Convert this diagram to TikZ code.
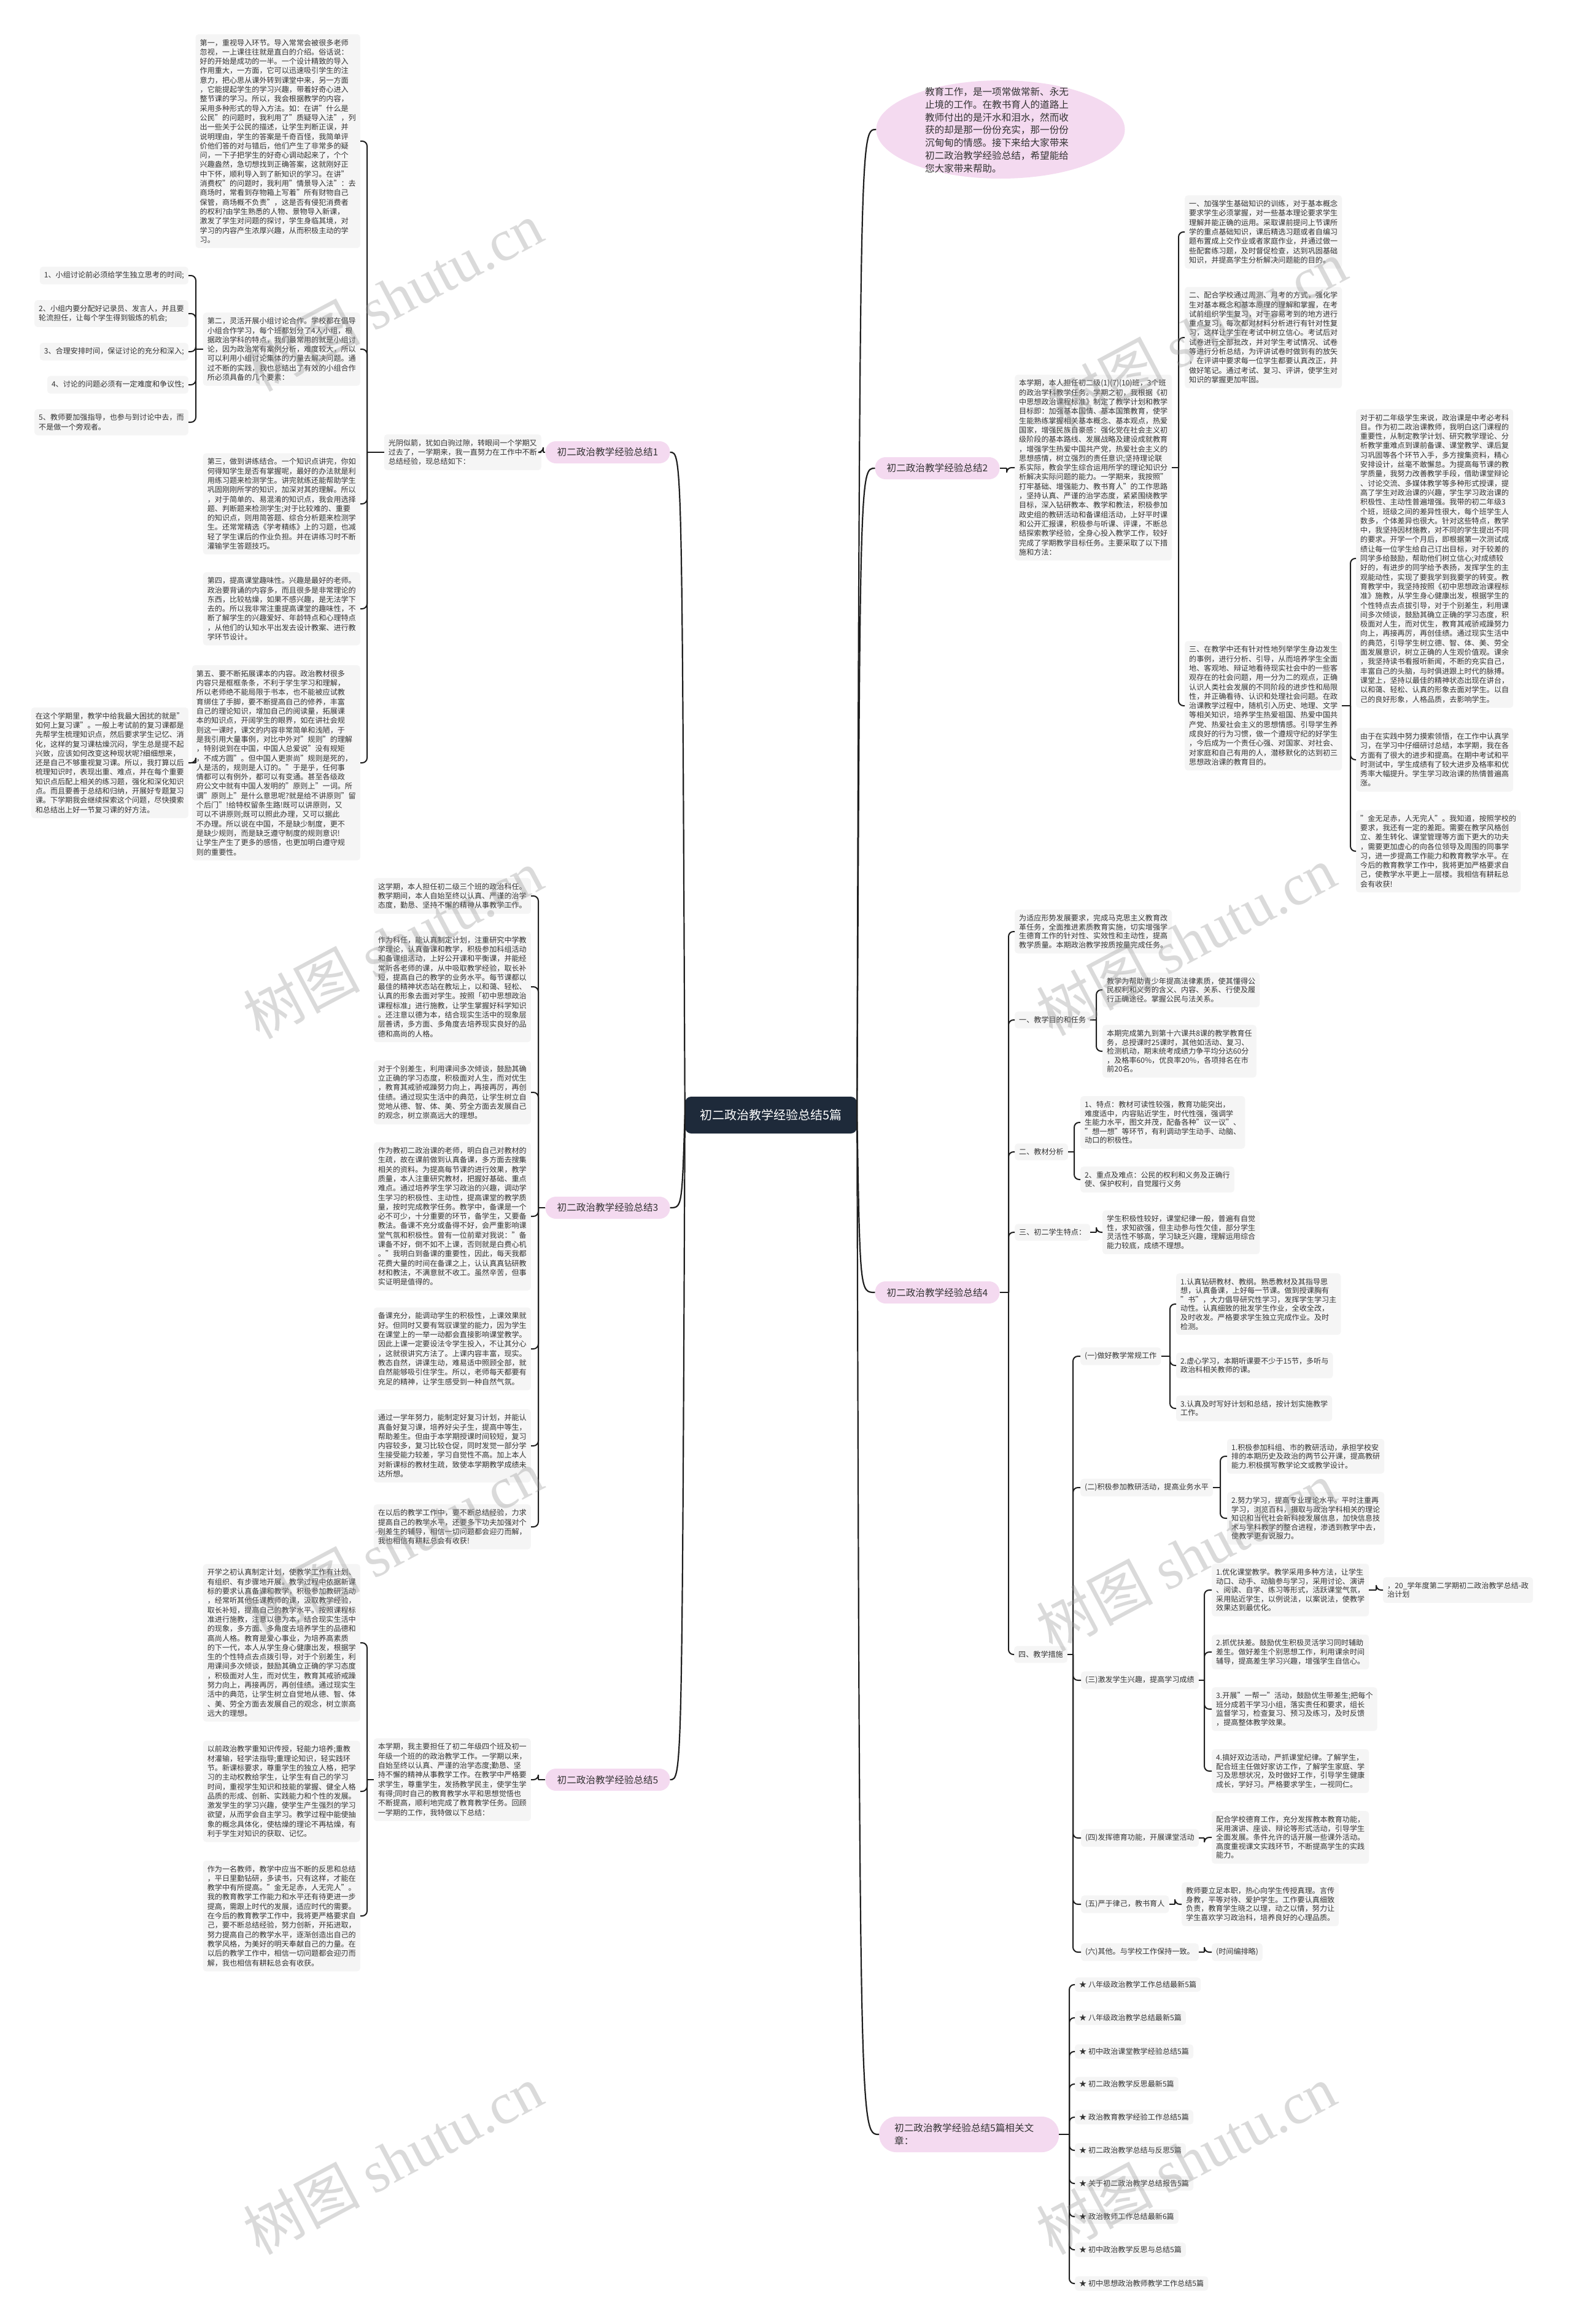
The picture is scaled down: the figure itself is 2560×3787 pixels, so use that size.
\documentclass[tikz,border=0pt]{standalone}
\usepackage{fontspec}
\setmainfont{Noto Sans CJK SC}
\newfontfamily\wmserif{Liberation Serif}
\usetikzlibrary{shapes.geometric}
\definecolor{boxc}{RGB}{245,245,245}
\definecolor{txtc}{RGB}{51,51,51}
\definecolor{pinkc}{RGB}{244,218,240}
\definecolor{rootc}{RGB}{30,42,58}
\definecolor{linec}{RGB}{30,30,30}
\definecolor{wmc}{RGB}{150,150,150}
\newcommand\rconn[3]{\draw[link] (#1.east) -- (#1.east -| #3); \draw[link,rounded corners=8pt] (#1.east -| #3) |- (#2.west);}
\newcommand\lconn[3]{\draw[link] (#1.west) -- (#1.west -| #3); \draw[link,rounded corners=8pt] (#1.west -| #3) |- (#2.east);}
\tikzset{
 box/.style={fill=boxc, rounded corners=5pt, text=txtc, font=\fontsize{12.1}{15.3}\selectfont, align=left, inner xsep=7pt, inner ysep=8pt},
 boxs/.style={box, font=\fontsize{12.1}{14.6}\selectfont},
 lbl/.style={fill=pinkc, rounded corners=17pt, text=txtc, font=\fontsize{15.6}{21}\selectfont, inner xsep=19pt, inner ysep=0pt, minimum height=36pt},
 rootnode/.style={fill=rootc, text=white, rounded corners=10pt, font=\fontsize{20}{24}\selectfont, minimum width=280pt, minimum height=60pt, inner sep=0pt},
 link/.style={draw=linec, line width=2pt},
 mainlink/.style={draw=linec, line width=2.2pt},
 wm/.style={text=wmc, opacity=0.35, font=\fontsize{95}{100}\selectfont, rotate=28},
}
\begin{document}
\begin{tikzpicture}[x=1pt,y=-1pt]
\fill[white] (0,0) rectangle (2560,3787);
\useasboundingbox (0,0) rectangle (2560,3787);

% ---------- root ----------
\node[rootnode] (root) at (1256,1817) {初二政治教学经验总结5篇};

% ---------- intro ----------
\node[ellipse, fill=pinkc, minimum width=405pt, minimum height=160pt, inner sep=0pt] (intro) at (1630,211) {};
\node[text=txtc, font=\fontsize{15.6}{20.8}\selectfont, align=left] (introtxt) at (1624,212) {教育工作，是一项常做常新、永无\\止境的工作。在教书育人的道路上\\教师付出的是汗水和泪水，然而收\\获的却是那一份份充实，那一份份\\沉甸甸的情感。接下来给大家带来\\初二政治教学经验总结，希望能给\\您大家带来帮助。};

% ---------- labels ----------
\node[lbl] (L1) at (990,737) {初二政治教学经验总结1};
\node[lbl] (L3) at (990,1968) {初二政治教学经验总结3};
\node[lbl] (L5) at (990,2900) {初二政治教学经验总结5};
\node[lbl] (L2) at (1527,763) {初二政治教学经验总结2};
\node[lbl] (L4) at (1527,2106) {初二政治教学经验总结4};
\node[lbl, anchor=west, align=left, text width=243pt, inner xsep=25pt, minimum height=58pt, rounded corners=28pt] (L6) at (1432,3478) {初二政治教学经验总结5篇相关文\\章：};

% ---------- main curves ----------
\draw[mainlink] (root.east) .. controls (1401,211) .. (intro.west);
\draw[mainlink] (root.east) .. controls (1401,763) .. (L2.west);
\draw[mainlink] (root.east) .. controls (1401,2106) .. (L4.west);
\draw[mainlink] (root.east) .. controls (1401,3478) .. (L6.west);
\draw[mainlink] (root.west) .. controls (1111,737) .. (L1.east);
\draw[mainlink] (root.west) .. controls (1111,1968) .. (L3.east);
\draw[mainlink] (root.west) .. controls (1111,2900) .. (L5.east);

% ---------- section 1 ----------
\node[box, anchor=east] (g1) at (882,737) {光阴似箭，犹如白驹过隙，转眼间一个学期又\\过去了，一学期来，我一直努力在工作中不断\\总结经验，现总结如下：};
\node[box, anchor=east] (b1) at (587,230) {第一，重视导入环节。导入常常会被很多老师\\忽视，一上课往往就是直白的介绍。俗话说：\\好的开始是成功的一半。一个设计精致的导入\\作用重大，一方面，它可以迅速吸引学生的注\\意力，把心思从课外转到课堂中来，另一方面\\，它能提起学生的学习兴趣，带着好奇心进入\\整节课的学习。所以，我会根据教学的内容，\\采用多种形式的导入方法。如：在讲"什么是\\公民"的问题时，我利用了"质疑导入法"，列\\出一些关于公民的描述，让学生判断正误，并\\说明理由，学生的答案是千奇百怪，我简单评\\价他们答的对与错后，他们产生了非常多的疑\\问，一下子把学生的好奇心调动起来了，个个\\兴趣盎然，急切想找到正确答案，这就刚好正\\中下怀，顺利导入到了新知识的学习。在讲"\\消费权"的问题时，我利用"情景导入法"：去\\商场时，常看到存物箱上写着"所有财物自己\\保管，商场概不负责"，这是否有侵犯消费者\\的权利?由学生熟悉的人物、景物导入新课，\\激发了学生对问题的探讨，学生身临其境，对\\学习的内容产生浓厚兴趣，从而积极主动的学\\习。};
\node[box, anchor=east] (b2) at (587,569) {第二，灵活开展小组讨论合作。学校都在倡导\\小组合作学习，每个班都划分了4人小组，根\\据政治学科的特点，我们最常用的就是小组讨\\论，因为政治常有案例分析，难度较大，所以\\可以利用小组讨论集体的力量去解决问题。通\\过不断的实践，我也总结出了有效的小组合作\\所必须具备的几个要素：};
\node[box, anchor=east] (b3) at (587,821) {第三，做到讲练结合。一个知识点讲完，你如\\何得知学生是否有掌握呢，最好的办法就是利\\用练习题来检测学生。讲完就练还能帮助学生\\巩固刚刚所学的知识，加深对其的理解。所以\\，对于简单的、易混淆的知识点，我会用选择\\题、判断题来检测学生;对于比较难的、重要\\的知识点，则用简答题、综合分析题来检测学\\生。还常常精选《学考精练》上的习题，也减\\轻了学生课后的作业负担。并在讲练习时不断\\灌输学生答题技巧。};
\node[box, anchor=east] (b4) at (587,992) {第四，提高课堂趣味性。兴趣是最好的老师。\\政治要背诵的内容多，而且很多是非常理论的\\东西，比较枯燥，如果不感兴趣，是无法学下\\去的。所以我非常注重提高课堂的趣味性，不\\断了解学生的兴趣爱好、年龄特点和心理特点\\，从他们的认知水平出发去设计教案、进行教\\学环节设计。};
\node[box, anchor=east] (b5) at (587,1243) {第五、要不断拓展课本的内容。政治教材很多\\内容只是框框条条，不利于学生学习和理解，\\所以老师绝不能局限于书本，也不能被应试教\\育绑住了手脚，要不断提高自己的修养，丰富\\自己的理论知识，增加自己的阅读量，拓展课\\本的知识点，开阔学生的眼界，如在讲社会规\\则这一课时，课文的内容非常简单和浅陋，于\\是我引用大量事例，对比中外对"规则"的理解\\，特别说到在中国，中国人总爱说"没有规矩\\，不成方圆"。但中国人更崇尚"规则是死的，\\人是活的，规则是人订的。"于是乎，任何事\\情都可以有例外，都可以有变通。甚至各级政\\府公文中就有中国人发明的"原则上"一词。所\\谓"原则上"是什么意思呢?就是给不讲原则"留\\个后门"!给特权留条生路!既可以讲原则，又\\可以不讲原则;既可以照此办理，又可以据此\\不办理。所以说在中国，不是缺少制度，更不\\是缺少规则，而是缺乏遵守制度的规则意识!\\让学生产生了更多的感悟，也更加明白遵守规\\则的重要性。};
\node[box, anchor=east] (i1) at (307,449) {1、小组讨论前必须给学生独立思考的时间;};
\node[box, anchor=east] (i2) at (307,511) {2、小组内要分配好记录员、发言人，并且要\\轮流担任，让每个学生得到锻炼的机会;};
\node[box, anchor=east] (i3) at (307,573) {3、合理安排时间，保证讨论的充分和深入;};
\node[box, anchor=east] (i4) at (307,627) {4、讨论的问题必须有一定难度和争议性;};
\node[box, anchor=east] (i5) at (307,688) {5、教师要加强指导，也参与到讨论中去，而\\不是做一个旁观者。};
\node[box, anchor=east] (b5c) at (307,1243) {在这个学期里，教学中给我最大困扰的就是"\\如何上复习课"。一般上考试前的复习课都是\\先帮学生梳理知识点，然后要求学生记忆、消\\化，这样的复习课枯燥沉闷，学生总是提不起\\兴致，应该如何改变这种现状呢?细细想来，\\还是自己不够重视复习课。所以，我打算以后\\梳理知识时，表现出重、难点，并在每个重要\\知识点后配上相关的练习题，强化和深化知识\\点。而且要善于总结和归纳，开展好专题复习\\课。下学期我会继续探索这个问题，尽快摸索\\和总结出上好一节复习课的好方法。};
\coordinate (k1g) at (885,0);
\coordinate (k1) at (598,0);
\coordinate (k1b) at (319,0);
\lconn{L1}{g1}{k1g}
\lconn{g1}{b1}{k1} \lconn{g1}{b2}{k1} \lconn{g1}{b3}{k1} \lconn{g1}{b4}{k1} \lconn{g1}{b5}{k1}
\lconn{b2}{i1}{k1b} \lconn{b2}{i2}{k1b} \lconn{b2}{i3}{k1b} \lconn{b2}{i4}{k1b} \lconn{b2}{i5}{k1b}
\lconn{b5}{b5c}{k1b}

% ---------- section 3 ----------
\node[box, anchor=east] (s3a) at (865,1460) {这学期，本人担任初二级三个班的政治科任。\\教学期间，本人自始至终以认真、严谨的治学\\态度，勤恳、坚持不懈的精神从事教学工作。};
\node[box, anchor=east] (s3b) at (865,1608) {作为科任，能认真制定计划，注重研究中学教\\学理论，认真备课和教学，积极参加科组活动\\和备课组活动，上好公开课和平衡课，并能经\\常听各老师的课，从中吸取教学经验，取长补\\短，提高自己的教学的业务水平。每节课都以\\最佳的精神状态站在教坛上，以和蔼、轻松、\\认真的形象去面对学生。按照「初中思想政治\\课程标准」进行施教，让学生掌握好科学知识\\。还注意以德为本，结合现实生活中的现象层\\层善诱，多方面、多角度去培养现实良好的品\\德和高尚的人格。};
\node[box, anchor=east] (s3c) at (865,1780) {对于个别差生，利用课间多次倾谈，鼓励其确\\立正确的学习态度，积极面对人生，而对优生\\，教育其戒骄戒躁努力向上，再接再厉，再创\\佳绩。通过现实生活中的典范，让学生树立自\\觉地从德、智、体、美、劳全方面去发展自己\\的观念，树立崇高远大的理想。};
\node[box, anchor=east] (s3d) at (865,1982) {作为教初二政治课的老师，明白自己对教材的\\生疏，故在课前做到认真备课，多方面去搜集\\相关的资料。为提高每节课的进行效果，教学\\质量，本人注重研究教材，把握好基础、重点\\难点。通过培养学生学习政治的兴趣，调动学\\生学习的积极性、主动性，提高课堂的教学质\\量，按时完成教学任务。教学中，备课是一个\\必不可少，十分重要的环节，备学生，又要备\\教法。备课不充分或备得不好，会严重影响课\\堂气氛和积极性。曾有一位前辈对我说："备\\课备不好，倒不如不上课，否则就是白费心机\\。"我明白到备课的重要性，因此，每天我都\\花费大量的时间在备课之上，认认真真钻研教\\材和教法，不满意就不收工。虽然辛苦，但事\\实证明是值得的。};
\node[box, anchor=east] (s3e) at (865,2198) {备课充分，能调动学生的积极性，上课效果就\\好。但同时又要有驾驭课堂的能力，因为学生\\在课堂上的一举一动都会直接影响课堂教学。\\因此上课一定要设法令学生投入，不让其分心\\，这就很讲究方法了。上课内容丰富，现实。\\教态自然，讲课生动，难易适中照顾全部，就\\自然能够吸引住学生。所以，老师每天都要有\\充足的精神，让学生感受到一种自然气氛。};
\node[box, anchor=east] (s3f) at (865,2356) {通过一学年努力，能制定好复习计划，并能认\\真备好复习课，培养好尖子生，提高中等生，\\帮助差生。但由于本学期授课时间较短，复习\\内容较多，复习比较仓促，同时发觉一部分学\\生接受能力较差，学习自觉性不高。加上本人\\对新课标的教材生疏，致使本学期教学成绩未\\达所想。};
\node[box, anchor=east] (s3g) at (865,2488) {在以后的教学工作中，要不断总结经验，力求\\提高自己的教学水平，还要多下功夫加强对个\\别差生的辅导，相信一切问题都会迎刃而解，\\我也相信有耕耘总会有收获!};
\coordinate (k3) at (877,0);
\lconn{L3}{s3a}{k3} \lconn{L3}{s3b}{k3} \lconn{L3}{s3c}{k3} \lconn{L3}{s3d}{k3} \lconn{L3}{s3e}{k3} \lconn{L3}{s3f}{k3} \lconn{L3}{s3g}{k3}

% ---------- section 5 ----------
\node[box, anchor=east] (s5m) at (865,2900) {本学期，我主要担任了初二年级四个班及初一\\年级一个班的的政治教学工作。一学期以来，\\自始至终以认真、严谨的治学态度;勤恳、坚\\持不懈的精神从事教学工作。在教学中严格要\\求学生，尊重学生，发扬教学民主，使学生学\\有得;同时自己的教育教学水平和思想觉悟也\\不断提高，顺利地完成了教育教学任务。回顾\\一学期的工作，我特做以下总结：};
\node[box, anchor=east] (s5a) at (587,2677) {开学之初认真制定计划，使教学工作有计划、\\有组织、有步骤地开展。教学过程中依据新课\\标的要求认真备课和教学，积极参加教研活动\\，经常听其他任课教师的课，汲取教学经验，\\取长补短，提高自己的教学水平。按照课程标\\准进行施教，注意以德为本，结合现实生活中\\的现象，多方面、多角度去培养学生的品德和\\高尚人格。教育是爱心事业，为培养高素质\\的下一代，本人从学生身心健康出发，根据学\\生的个性特点去点拨引导，对于个别差生，利\\用课间多次倾谈，鼓励其确立正确的学习态度\\，积极面对人生，而对优生，教育其戒骄戒躁\\努力向上，再接再厉，再创佳绩。通过现实生\\活中的典范，让学生树立自觉地从德、智、体\\、美、劳全方面去发展自己的观念，树立崇高\\远大的理想。};
\node[box, anchor=east] (s5b) at (587,2919) {以前政治教学重知识传授，轻能力培养;重教\\材灌输，轻学法指导;重理论知识，轻实践环\\节。新课标要求，尊重学生的独立人格，把学\\习的主动权教给学生，让学生有自己的学习\\时间，重视学生知识和技能的掌握、健全人格\\品质的形成、创新、实践能力和个性的发展。\\激发学生的学习兴趣，使学生产生强烈的学习\\欲望，从而学会自主学习。教学过程中能使抽\\象的概念具体化，使枯燥的理论不再枯燥，有\\利于学生对知识的获取、记忆。};
\node[box, anchor=east] (s5c) at (587,3122) {作为一名教师，教学中应当不断的反思和总结\\，平日里勤钻研，多读书，只有这样，才能在\\教学中有所提高。"金无足赤，人无完人"。\\我的教育教学工作能力和水平还有待更进一步\\提高，需跟上时代的发展，适应时代的需要。\\在今后的教育教学工作中，我将更严格要求自\\己，要不断总结经验，努力创新，开拓进取，\\努力提高自己的教学水平，逐渐创造出自己的\\教学风格，为美好的明天奉献自己的力量。在\\以后的教学工作中，相信一切问题都会迎刃而\\解，我也相信有耕耘总会有收获。};
\coordinate (k5) at (877,0);
\coordinate (k5b) at (598,0);
\lconn{L5}{s5m}{k5}
\lconn{s5m}{s5a}{k5b} \lconn{s5m}{s5b}{k5b} \lconn{s5m}{s5c}{k5b}

% ---------- section 2 ----------
\node[box, anchor=west] (s2m) at (1653,762) {本学期，本人担任初二级(1)(7)(10)班，3个班\\的政治学科教学任务。学期之初，我根据《初\\中思想政治课程标准》制定了教学计划和教学\\目标即：加强基本国情、基本国策教育，使学\\生能熟练掌握相关基本概念、基本观点，热爱\\国家，增强民族自豪感：强化党在社会主义初\\级阶段的基本路线、发展战略及建设成就教育\\，增强学生热爱中国共产党，热爱社会主义的\\思想感情，树立强烈的责任意识;坚持理论联\\系实际，教会学生综合运用所学的理论知识分\\析解决实际问题的能力。一学期来，我按照"\\打牢基础、增强能力、教书育人"的工作思路\\，坚持认真、严谨的治学态度，紧紧围绕教学\\目标，深入钻研教本、教学和教法，积极参加\\政史组的教研活动和备课组活动，上好平时课\\和公开汇报课，积极参与听课、评课，不断总\\结探索教学经验，全身心投入教学工作，较好\\完成了学期教学目标任务。主要采取了以下措\\施和方法：};
\node[box, anchor=west] (s2a) at (1930,378) {一、加强学生基础知识的训练，对于基本概念\\要求学生必须掌握，对一些基本理论要求学生\\理解并能正确的运用。采取课前提问上节课所\\学的重点基础知识，课后精选习题或者自编习\\题布置成上交作业或者家庭作业，并通过做一\\些配套练习题，及时督促检查，达到巩固基础\\知识，并提高学生分析解决问题能的目的。};
\node[box, anchor=west] (s2b) at (1930,550) {二、配合学校通过周测、月考的方式，强化学\\生对基本概念和基本原理的理解和掌握，在考\\试前组织学生复习，对于容易考到的地方进行\\重点复习，每次都对材料分析进行有针对性复\\习，这样让学生在考试中树立信心。考试后对\\试卷进行全部批改，并对学生考试情况、试卷\\等进行分析总结，为评讲试卷时做到有的放矢\\，在评讲中要求每一位学生都要认真改正，并\\做好笔记。通过考试、复习、评讲，使学生对\\知识的掌握更加牢固。};
\node[box, anchor=west] (s2c) at (1930,1150) {三、在教学中还有针对性地列举学生身边发生\\的事例，进行分析、引导，从而培养学生全面\\地、客观地、辩证地看待现实社会中的一些客\\观存在的社会问题，用一分为二的观点，正确\\认识人类社会发展的不同阶段的进步性和局限\\性，并正确看待、认识和处理社会问题。在政\\治课教学过程中，随机引入历史、地理、文学\\等相关知识，培养学生热爱祖国、热爱中国共\\产党、热爱社会主义的思想情感。引导学生养\\成良好的行为习惯，做一个遵规守纪的好学生\\，今后成为一个责任心强、对国家、对社会、\\对家庭和自己有用的人，潜移默化的达到初三\\思想政治课的教育目的。};
\node[box, anchor=west] (r1) at (2209,910) {对于初二年级学生来说，政治课是中考必考科\\目。作为初二政治课教师，我明白这门课程的\\重要性，从制定教学计划、研究教学理论、分\\析教学重难点到课前备课、课堂教学、课后复\\习巩固等各个环节入手，多方搜集资料，精心\\安排设计，丝毫不敢懈怠。为提高每节课的教\\学质量，我努力改善教学手段，借助课堂辩论\\、讨论交流、多媒体教学等多种形式授课，提\\高了学生对政治课的兴趣，学生学习政治课的\\积极性、主动性普遍增强。我带的初二年级3\\个班，班级之间的差异性很大，每个班学生人\\数多，个体差异也很大。针对这些特点，教学\\中，我坚持因材施教，对不同的学生提出不同\\的要求。开学一个月后，即根据第一次测试成\\绩让每一位学生给自己订出目标，对于较差的\\同学多给鼓励，帮助他们树立信心;对成绩较\\好的，有进步的同学给予表扬，发挥学生的主\\观能动性，实现了要我学到我要学的转变。教\\育教学中，我坚持按照《初中思想政治课程标\\准》施教，从学生身心健康出发，根据学生的\\个性特点去点拔引导，对于个别差生，利用课\\间多次倾谈，鼓励其确立正确的学习态度，积\\极面对人生，而对优生，教育其戒骄戒躁努力\\向上，再接再厉，再创佳绩。通过现实生活中\\的典范，引导学生树立德、智、体、美、劳全\\面发展意识，树立正确的人生观价值观。课余\\，我坚持读书看报听新闻，不断的充实自己，\\丰富自己的头脑，与时俱进跟上时代的脉搏。\\课堂上，坚持以最佳的精神状态出现在讲台，\\以和蔼、轻松、认真的形象去面对学生。以自\\己的良好形象，人格品质，去影响学生。};
\node[box, anchor=west] (r2) at (2209,1238) {由于在实践中努力摸索领悟，在工作中认真学\\习，在学习中仔细研讨总结，本学期，我在各\\方面有了很大的进步和提高。在期中考试和平\\时测试中，学生成绩有了较大进步及格率和优\\秀率大幅提升。学生学习政治课的热情普遍高\\涨。};
\node[box, anchor=west] (r3) at (2209,1387) {"金无足赤，人无完人"。我知道，按照学校的\\要求，我还有一定的差距。需要在教学风格创\\立、差生转化、课堂管理等方面下更大的功夫\\，需要更加虚心的向各位领导及周围的同事学\\习，进一步提高工作能力和教育教学水平。在\\今后的教育教学工作中，我将更加严格要求自\\己，使教学水平更上一层楼。我相信有耕耘总\\会有收获!};
\coordinate (k2) at (1640,0);
\coordinate (k2b) at (1920,0);
\coordinate (k2c) at (2200,0);
\rconn{L2}{s2m}{k2}
\rconn{s2m}{s2a}{k2b} \rconn{s2m}{s2b}{k2b} \rconn{s2m}{s2c}{k2b}
\rconn{s2c}{r1}{k2c} \rconn{s2c}{r2}{k2c} \rconn{s2c}{r3}{k2c}

% ---------- section 4 ----------
\node[boxs, anchor=west] (s4a) at (1653,1518) {为适应形势发展要求，完成马克思主义教育改\\革任务，全面推进素质教育实施，切实增强学\\生德育工作的针对性、实效性和主动性，提高\\教学质量。本期政治教学按质按量完成任务。};
\node[boxs, anchor=west] (s4b) at (1653,1662) {一、教学目的和任务};
\node[boxs, anchor=west] (s4b1) at (1796,1613) {教学为帮助青少年提高法律素质，使其懂得公\\民权利和义务的含义、内容、关系、行使及履\\行正确途径。掌握公民与法关系。};
\node[boxs, anchor=west] (s4b2) at (1796,1713) {本期完成第九到第十六课共8课的教学教育任\\务，总授课时25课时，其他如活动、复习、\\检测机动，期末统考成绩力争平均分达60分\\，及格率60\%，优良率20\%，各项排名在市\\前20名。};
\node[boxs, anchor=west] (s4c) at (1653,1877) {二、教材分析};
\node[boxs, anchor=west] (s4c1) at (1760,1829) {1、特点：教材可读性较强，教育功能突出，\\难度适中，内容贴近学生，时代性强，强调学\\生能力水平，图文并茂，配备各种"议一议"、\\"想一想"等环节，有利调动学生动手、动脑、\\动口的积极性。};
\node[boxs, anchor=west] (s4c2) at (1760,1922) {2、重点及难点：公民的权利和义务及正确行\\使、保护权利，自觉履行义务};
\node[boxs, anchor=west] (s4d) at (1653,2008) {三、初二学生特点：};
\node[boxs, anchor=west] (s4d1) at (1796,2008) {学生积极性较好，课堂纪律一般，普遍有自觉\\性，求知欲强，但主动参与性欠佳，部分学生\\灵活性不够高，学习缺乏兴趣，理解运用综合\\能力较底，成绩不理想。};
\node[boxs, anchor=west] (s4e) at (1652,2696) {四、教学措施};
\node[boxs, anchor=west] (e1) at (1760,2210) {(一)做好教学常规工作};
\node[boxs, anchor=west] (e11) at (1916,2125) {1.认真钻研教材、教纲。熟悉教材及其指导思\\想，认真备课，上好每一节课。做到授课胸有\\"书"，大力倡导研究性学习，发挥学生学习主\\动性。认真细致的批发学生作业，全收全改，\\及时收发。严格要求学生独立完成作业。及时\\检测。};
\node[boxs, anchor=west] (e12) at (1916,2225) {2.虚心学习，本期听课要不少于15节，多听与\\政治科相关教师的课。};
\node[boxs, anchor=west] (e13) at (1916,2295) {3.认真及时写好计划和总结，按计划实施教学\\工作。};
\node[boxs, anchor=west] (e2) at (1760,2424) {(二)积极参加教研活动，提高业务水平};
\node[boxs, anchor=west] (e21) at (1999,2373) {1.积极参加科组、市的教研活动，承担学校安\\排的本期历史及政治的两节公开课，提高教研\\能力.积极撰写教学论文或教学设计。};
\node[boxs, anchor=west] (e22) at (1999,2474) {2.努力学习，提高专业理论水平。平时注重再\\学习，浏览百科，摄取与政治学科相关的理论\\知识和当代社会新科技发展信息，加快信息技\\术与学科教学的整合进程，渗透到教学中去，\\使教学更有说服力。};
\node[boxs, anchor=west] (e3) at (1761,2738) {(三)激发学生兴趣，提高学习成绩};
\node[boxs, anchor=west] (e31) at (1974,2591) {1.优化课堂教学。教学采用多种方法，让学生\\动口、动手、动脑参与学习，采用讨论、演讲\\、阅读、自学、练习等形式，活跃课堂气氛，\\采用贴近学生，以例说法，以案说法，使教学\\效果达到最优化。};
\node[boxs, anchor=west] (e31t) at (2253,2591) {，20\_学年度第二学期初二政治教学总结-政\\治计划};
\node[boxs, anchor=west] (e32) at (1974,2692) {2.抓优扶差。鼓励优生积极灵活学习同时辅助\\差生。做好差生个别思想工作，利用课余时间\\辅导，提高差生学习兴趣，增强学生自信心。};
\node[boxs, anchor=west] (e33) at (1974,2785) {3.开展"一帮一"活动，鼓励优生带差生;把每个\\班分成若干学习小组，落实责任和要求，组长\\监督学习，检查复习、预习及练习，及时反馈\\，提高整体教学效果。};
\node[boxs, anchor=west] (e34) at (1974,2886) {4.搞好双边活动，严抓课堂纪律。了解学生，\\配合班主任做好家访工作，了解学生家庭、学\\习及思想状况，及时做好工作，引导学生健康\\成长，学好习。严格要求学生，一视同仁。};
\node[boxs, anchor=west] (e4) at (1761,2995) {(四)发挥德育功能，开展课堂活动};
\node[boxs, anchor=west] (e41) at (1974,2994) {配合学校德育工作，充分发挥教本教育功能，\\采用演讲、座谈、辩论等形式活动，引导学生\\全面发展。条件允许的话开展一些课外活动。\\高度重视课文实践环节，不断提高学生的实践\\能力。};
\node[boxs, anchor=west] (e5) at (1761,3103) {(五)严于律己，教书育人};
\node[boxs, anchor=west] (e51) at (1925,3103) {教师要立足本职，热心向学生传授真理。言传\\身教，平等对待、爱护学生。工作要认真细致\\负责，教育学生晓之以理，动之以情，努力让\\学生喜欢学习政治科，培养良好的心理品质。};
\node[boxs, anchor=west] (e6) at (1761,3181) {(六)其他。与学校工作保持一致。};
\node[boxs, anchor=west] (e61) at (1974,3181) {(时间编排略)};
\coordinate (k4) at (1643,0);
\coordinate (k4b) at (1786,0);
\coordinate (k4c) at (1750,0);
\coordinate (k4e) at (1748,0);
\coordinate (k4f) at (1906,0);
\coordinate (k4g) at (1988,0);
\coordinate (k4h) at (1962,0);
\coordinate (k4i) at (2242,0);
\coordinate (k4k) at (1914,0);
\rconn{L4}{s4a}{k4} \rconn{L4}{s4b}{k4} \rconn{L4}{s4c}{k4} \rconn{L4}{s4d}{k4} \rconn{L4}{s4e}{k4}
\rconn{s4b}{s4b1}{k4b} \rconn{s4b}{s4b2}{k4b}
\rconn{s4c}{s4c1}{k4c} \rconn{s4c}{s4c2}{k4c}
\rconn{s4d}{s4d1}{k4b}
\rconn{s4e}{e1}{k4e} \rconn{s4e}{e2}{k4e} \rconn{s4e}{e3}{k4e} \rconn{s4e}{e4}{k4e} \rconn{s4e}{e5}{k4e} \rconn{s4e}{e6}{k4e}
\rconn{e1}{e11}{k4f} \rconn{e1}{e12}{k4f} \rconn{e1}{e13}{k4f}
\rconn{e2}{e21}{k4g} \rconn{e2}{e22}{k4g}
\rconn{e3}{e31}{k4h} \rconn{e3}{e32}{k4h} \rconn{e3}{e33}{k4h} \rconn{e3}{e34}{k4h}
\rconn{e31}{e31t}{k4i}
\rconn{e4}{e41}{k4h}
\rconn{e5}{e51}{k4k}
\rconn{e6}{e61}{k4h}

% ---------- related ----------
\node[box, anchor=west, inner ysep=6pt] (a1) at (1751,3234) {★ 八年级政治教学工作总结最新5篇};
\node[box, anchor=west, inner ysep=6pt] (a2) at (1751,3288) {★ 八年级政治教学总结最新5篇};
\node[box, anchor=west, inner ysep=6pt] (a3) at (1751,3343) {★ 初中政治课堂教学经验总结5篇};
\node[box, anchor=west, inner ysep=6pt] (a4) at (1751,3396) {★ 初二政治教学反思最新5篇};
\node[box, anchor=west, inner ysep=6pt] (a5) at (1751,3450) {★ 政治教育教学经验工作总结5篇};
\node[box, anchor=west, inner ysep=6pt] (a6) at (1751,3504) {★ 初二政治教学总结与反思5篇};
\node[box, anchor=west, inner ysep=6pt] (a7) at (1751,3558) {★ 关于初二政治教学总结报告5篇};
\node[box, anchor=west, inner ysep=6pt] (a8) at (1751,3612) {★ 政治教师工作总结最新6篇};
\node[box, anchor=west, inner ysep=6pt] (a9) at (1751,3666) {★ 初中政治教学反思与总结5篇};
\node[box, anchor=west, inner ysep=6pt] (a10) at (1751,3721) {★ 初中思想政治教师教学工作总结5篇};
\coordinate (k6) at (1742,0);
\foreach \n in {a1,a2,a3,a4,a5,a6,a7,a8,a9,a10} {\rconn{L6}{\n}{k6}}

% ---------- watermarks ----------
\foreach \wx/\wy in {640/483, 1950/545, 640/1538, 1932/1533, 640/2516, 1932/2536, 640/3519, 1932/3519}
  \node[wm] (wm-\wx-\wy) at (\wx,\wy) {树图 {\wmserif shutu.cn}};
\end{tikzpicture}
\end{document}
